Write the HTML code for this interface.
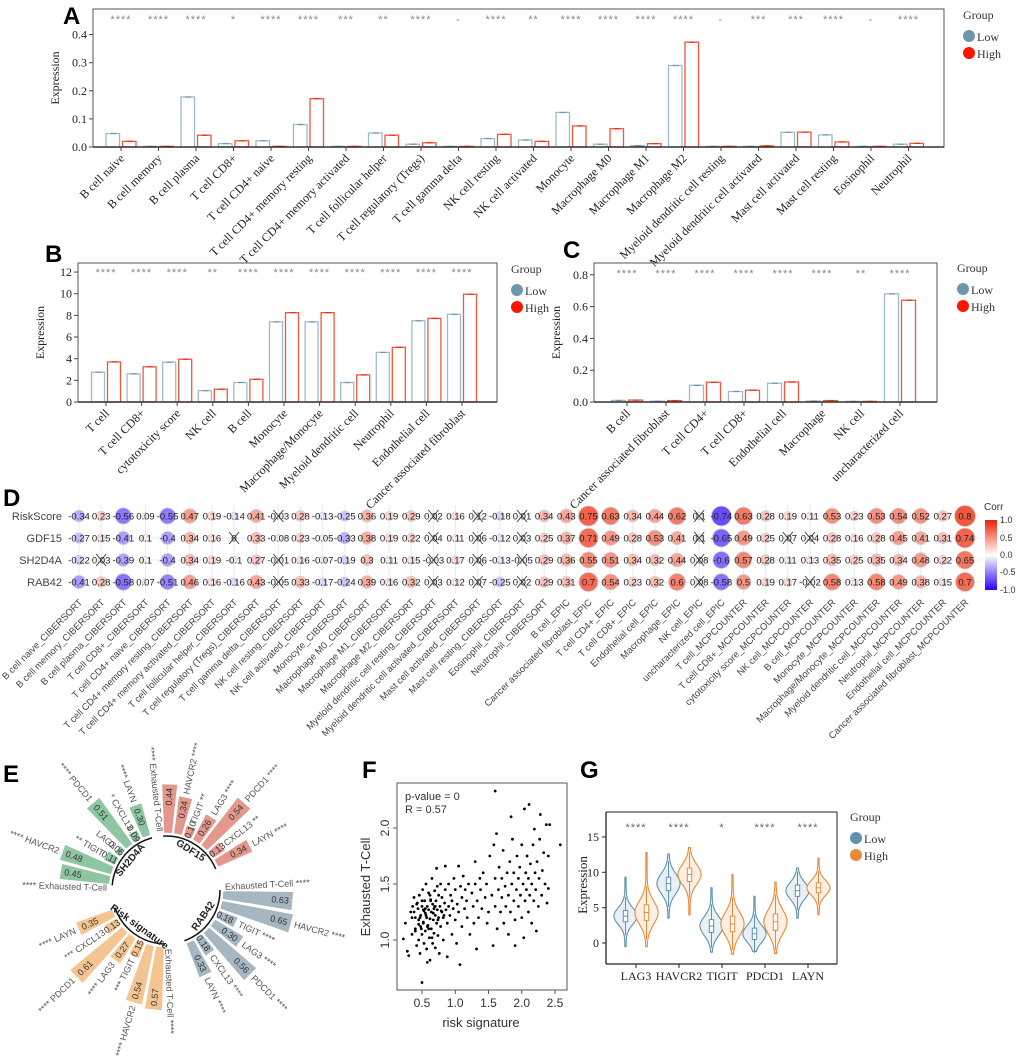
<!DOCTYPE html>
<html><head><meta charset="utf-8"><style>
body{margin:0;background:#fff}
svg{display:block}
.serif{font-family:"Liberation Serif",serif}
.sans{font-family:"Liberation Sans",sans-serif}
</style></head><body>
<svg id="fig" width="1020" height="1059" viewBox="0 0 1020 1059" xmlns="http://www.w3.org/2000/svg">
<defs><linearGradient id="cbar" x1="0" y1="0" x2="0" y2="1"><stop offset="0" stop-color="#ee2200"/><stop offset="0.5" stop-color="#ffffff"/><stop offset="1" stop-color="#2a00ff"/></linearGradient></defs>
<text x="63" y="24" font-size="24" font-weight="bold" class="sans">A</text>
<text x="45" y="262" font-size="24" font-weight="bold" class="sans">B</text>
<text x="563" y="258" font-size="24" font-weight="bold" class="sans">C</text>
<text x="3" y="506" font-size="24" font-weight="bold" class="sans">D</text>
<text x="3" y="782" font-size="24" font-weight="bold" class="sans">E</text>
<text x="362" y="778" font-size="24" font-weight="bold" class="sans">F</text>
<text x="580" y="778" font-size="24" font-weight="bold" class="sans">G</text>
</svg>
<script>
// ---------- Panel A data ----------
const aCats=['B cell naive','B cell memory','B cell plasma','T cell CD8+','T cell CD4+ naive','T cell CD4+ memory resting','T cell CD4+ memory activated','T cell follicular helper','T cell regulatory (Tregs)','T cell gamma delta','NK cell resting','NK cell activated','Monocyte','Macrophage M0','Macrophage M1','Macrophage M2','Myeloid dendritic cell resting','Myeloid dendritic cell activated','Mast cell activated','Mast cell resting','Eosinophil','Neutrophil'];
const aLow=[0.048,0.002,0.178,0.012,0.022,0.080,0.001,0.050,0.010,0.001,0.030,0.025,0.123,0.010,0.005,0.290,0.001,0.002,0.052,0.043,0.001,0.010];
const aHigh=[0.020,0.002,0.042,0.022,0.002,0.172,0.002,0.042,0.015,0.001,0.045,0.020,0.075,0.065,0.012,0.373,0.001,0.004,0.053,0.018,0.001,0.013];
const aSig=['****','****','****','*','****','****','***','**','****','-','****','**','****','****','****','****','-','***','***','****','-','****'];
const aTicks=[0,0.1,0.2,0.3,0.4];
const aTickLabels=['0.0','0.1','0.2','0.3','0.4'];
// ---------- Panel B data ----------
const bCats=['T cell','T cell CD8+','cytotoxicity score','NK cell','B cell','Monocyte','Macrophage/Monocyte','Myeloid dendritic cell','Neutrophil','Endothelial cell','Cancer associated fibroblast'];
const bLow=[2.75,2.6,3.68,1.05,1.8,7.4,7.4,1.8,4.58,7.5,8.1];
const bHigh=[3.7,3.25,3.95,1.18,2.1,8.25,8.25,2.5,5.05,7.72,9.95];
const bSig=['****','****','****','**','****','****','****','****','****','****','****'];
const bTicks=[0,2,4,6,8,10,12];
const bTickLabels=['0','2','4','6','8','10','12'];
// ---------- Panel C data ----------
const cCats=['B cell','Cancer associated fibroblast','T cell CD4+','T cell CD8+','Endothelial cell','Macrophage','NK cell','uncharacterized cell'];
const cLow=[0.010,0.005,0.105,0.066,0.118,0.006,0.001,0.680];
const cHigh=[0.012,0.009,0.124,0.074,0.126,0.009,0.001,0.640];
const cSig=['****','****','****','****','****','****','**','****'];
const cTicks=[0,0.2,0.4,0.6,0.8];
const cTickLabels=['0.0','0.2','0.4','0.6','0.8'];
// ---------- Panel D data ----------
const dRows=['RiskScore','GDF15','SH2D4A','RAB42'];
const dCols=['B cell naive_CIBERSORT','B cell memory_CIBERSORT','B cell plasma_CIBERSORT','T cell CD8+_CIBERSORT','T cell CD4+ naive_CIBERSORT','T cell CD4+ memory resting_CIBERSORT','T cell CD4+ memory activated_CIBERSORT','T cell follicular helper_CIBERSORT','T cell regulatory (Tregs)_CIBERSORT','T cell gamma delta_CIBERSORT','NK cell resting_CIBERSORT','NK cell activated_CIBERSORT','Monocyte_CIBERSORT','Macrophage M0_CIBERSORT','Macrophage M1_CIBERSORT','Macrophage M2_CIBERSORT','Myeloid dendritic cell resting_CIBERSORT','Myeloid dendritic cell activated_CIBERSORT','Mast cell activated_CIBERSORT','Mast cell resting_CIBERSORT','Eosinophil_CIBERSORT','Neutrophil_CIBERSORT','B cell_EPIC','Cancer associated fibroblast_EPIC','T cell CD4+_EPIC','T cell CD8+_EPIC','Endothelial cell_EPIC','Macrophage_EPIC','NK cell_EPIC','uncharacterized cell_EPIC','T cell_MCPCOUNTER','T cell CD8+_MCPCOUNTER','cytotoxicity score_MCPCOUNTER','NK cell_MCPCOUNTER','B cell_MCPCOUNTER','Monocyte_MCPCOUNTER','Macrophage/Monocyte_MCPCOUNTER','Myeloid dendritic cell_MCPCOUNTER','Neutrophil_MCPCOUNTER','Endothelial cell_MCPCOUNTER','Cancer associated fibroblast_MCPCOUNTER'];
const dRisk=[-0.34,0.23,-0.56,0.09,-0.55,0.47,0.19,-0.14,0.41,-0.03,0.28,-0.13,-0.25,0.36,0.19,0.29,0.02,0.16,0.12,-0.18,0.01,0.34,0.43,0.75,0.63,0.34,0.44,0.62,0.1,-0.74,0.63,0.28,0.19,0.11,0.53,0.23,0.53,0.54,0.52,0.27,0.8];
const dGdf=[-0.27,0.15,-0.41,0.1,-0.4,0.34,0.16,0,0.33,-0.08,0.23,-0.05,-0.33,0.38,0.19,0.22,0.04,0.11,0.06,-0.12,0.03,0.25,0.37,0.71,0.49,0.28,0.53,0.41,0.1,-0.65,0.49,0.25,0.07,0.04,0.28,0.16,0.28,0.45,0.41,0.31,0.74];
const dSh=[-0.22,0.03,-0.39,0.1,-0.4,0.34,0.19,-0.1,0.27,-0.01,0.16,-0.07,-0.19,0.3,0.11,0.15,-0.03,0.17,0.06,-0.13,-0.05,0.29,0.36,0.55,0.51,0.34,0.32,0.44,0.08,-0.6,0.57,0.28,0.11,0.13,0.35,0.25,0.35,0.34,0.48,0.22,0.65];
const dRab=[-0.41,0.28,-0.58,0.07,-0.51,0.46,0.16,-0.16,0.43,-0.05,0.33,-0.17,-0.24,0.39,0.16,0.32,0.03,0.12,0.07,-0.25,0.02,0.29,0.31,0.7,0.54,0.23,0.32,0.6,0.08,-0.58,0.5,0.19,0.17,-0.02,0.58,0.13,0.58,0.49,0.38,0.15,0.7];
const dCrossRisk=[9,16,18,20,28];
const dCrossGdf=[7,16,18,20,28,32,33];
const dCrossSh=[1,9,16,18,20,28];
const dCrossRab=[9,16,18,20,28,33];
// ---------- Panel E data ----------
const eGenes=['Exhausted T-Cell','HAVCR2','TIGIT','LAG3','PDCD1','CXCL13','LAYN'];
const eGroups=['GDF15','RAB42','Risk signature','SH2D4A'];
const eGdf=[0.44,0.34,0.10,0.26,0.54,0.13,0.34];
const eRab=[0.63,0.65,0.18,0.30,0.56,0.18,0.33];
const eRisk=[0.57,0.54,0.15,0.27,0.61,0.13,0.35];
const eSh=[0.45,0.48,0.11,0.06,0.51,0.09,0.30];
const eSigGdf=['****','****','**','****','****','**','****'];
const eSigRab=['****','****','****','****','****','****','****'];
const eSigRisk=['****','****','***','****','****','***','****'];
const eSigSh=['****','****','**','','****','*','****'];
// ---------- Panel F data ----------
const fX=[0.25,0.22,0.28,0.3,0.33,0.35,0.36,0.38,0.4,0.4,0.42,0.43,0.44,0.45,0.45,0.46,0.47,0.48,0.48,0.5,0.5,0.5,0.51,0.52,0.52,0.53,0.54,0.55,0.55,0.56,0.57,0.57,0.58,0.58,0.59,0.6,0.6,0.61,0.62,0.62,0.63,0.64,0.64,0.65,0.66,0.66,0.67,0.68,0.68,0.69,0.7,0.7,0.71,0.72,0.72,0.73,0.74,0.75,0.75,0.76,0.77,0.78,0.78,0.8,0.8,0.82,0.82,0.84,0.85,0.85,0.86,0.88,0.88,0.9,0.9,0.92,0.93,0.95,0.95,0.97,0.98,1.0,1.0,1.02,1.03,1.05,1.05,1.07,1.08,1.1,1.1,1.12,1.14,1.15,1.17,1.18,1.2,1.22,1.25,1.27,1.28,1.3,1.3,1.32,1.33,1.35,1.37,1.38,1.4,1.42,1.45,1.47,1.48,1.5,1.52,1.55,1.57,1.58,1.6,1.6,1.6,1.62,1.63,1.65,1.66,1.68,1.7,1.7,1.72,1.73,1.75,1.76,1.78,1.8,1.8,1.82,1.83,1.84,1.85,1.86,1.88,1.88,1.9,1.9,1.92,1.93,1.95,1.95,1.97,1.98,2.0,2.0,2.02,2.03,2.04,2.05,2.06,2.07,2.08,2.1,2.1,2.11,2.12,2.13,2.15,2.15,2.17,2.18,2.19,2.2,2.21,2.22,2.23,2.25,2.26,2.27,2.28,2.3,2.31,2.33,2.35,2.37,2.38,2.4,2.42,2.4,2.58,0.38,0.42,0.47,0.52,0.55,0.6,0.63,0.67,0.7,0.74,0.79,0.83,0.4,0.45,0.5,0.56,0.62,0.69,0.73,0.58,0.65,0.35,0.53,0.49];
const fY=[1.15,1.01,0.9,0.86,1.25,1.05,1.3,1.38,1.2,1.1,0.95,1.33,1.28,1.18,1.0,1.4,0.88,1.22,1.12,1.3,1.05,0.62,1.45,1.27,1.16,0.97,1.35,1.24,1.08,1.5,1.2,0.92,1.3,0.8,1.13,1.42,1.27,1.02,1.19,0.82,1.35,1.25,1.1,1.55,1.32,0.97,1.18,1.28,1.06,1.44,1.22,0.93,1.35,1.15,1.64,1.27,1.04,1.4,1.2,0.88,1.3,1.5,1.12,1.25,1.38,1.2,1.0,1.33,1.66,1.45,1.27,1.15,0.85,1.3,1.5,1.22,1.4,1.05,1.35,1.28,1.55,1.18,1.45,0.97,1.32,1.25,1.66,0.78,1.48,1.38,1.12,1.57,1.28,1.45,1.35,1.2,1.5,1.05,1.42,1.3,1.15,1.7,1.5,0.92,1.35,1.2,1.55,1.45,1.28,1.6,1.38,1.5,1.15,1.25,1.75,1.4,0.95,1.85,1.55,1.3,2.33,1.95,1.1,1.45,1.65,1.25,1.38,1.55,1.8,1.15,1.48,1.3,1.6,1.05,1.4,1.7,1.25,2.1,1.5,1.9,1.35,1.6,1.18,0.95,1.45,1.75,1.3,1.55,1.65,1.4,1.85,1.2,1.5,1.02,2.17,1.35,1.6,1.45,1.75,1.25,1.55,2.21,1.4,1.68,1.5,1.15,1.85,1.35,1.99,1.6,1.45,1.08,1.7,1.3,1.55,1.9,2.12,1.4,1.62,1.78,1.5,2.03,1.33,1.75,2.03,1.46,1.85,1.25,1.32,1.2,1.15,1.28,1.1,1.36,1.24,1.3,1.18,1.26,1.22,1.08,1.14,1.35,1.22,1.4,1.3,1.48,1.12,1.02,1.2,1.26,1.1];
const fXTicks=[0.5,1.0,1.5,2.0,2.5];
const fXTickLabels=['0.5','1.0','1.5','2.0','2.5'];
const fYTicks=[1.0,1.5,2.0];
const fYTickLabels=['1.0','1.5','2.0'];
// ---------- Panel G data ----------
const gCats=['LAG3','HAVCR2','TIGIT','PDCD1','LAYN'];
const gSig=['****','****','*','****','****'];
const gLowMed=[3.8,8.4,2.4,1.3,7.4];
const gLowQ1=[3.0,7.4,1.5,0.5,6.6];
const gLowQ3=[4.6,9.3,3.3,2.1,8.2];
const gLowMin=[-0.5,3.5,-1.3,-1.2,3.5];
const gLowMax=[9.3,12.6,7.8,6.6,10.6];
const gHighMed=[4.3,9.7,2.7,3.0,7.8];
const gHighQ1=[3.2,8.7,1.6,1.8,7.1];
const gHighQ3=[5.4,10.6,3.8,4.1,8.5];
const gHighMin=[-0.5,4.0,-1.6,-1.5,4.0];
const gHighMax=[12.8,13.5,9.7,8.6,12.0];
const gTicks=[0,5,10,15];
const gTickLabels=['0','5','10','15'];

const NS='http://www.w3.org/2000/svg';
const svg=document.getElementById('fig');
function mk(tag,attrs,parent){const e=document.createElementNS(NS,tag);for(const k in attrs)e.setAttribute(k,attrs[k]);(parent||svg).appendChild(e);return e;}
function txt(s,attrs,parent){const e=mk('text',attrs,parent);e.textContent=s;return e;}
const LOWC='#9dbccb',HIGHC='#f2563a',LOWDOT='#6f97ab',HIGHDOT='#ff1500';

function legend(x,y,title,c1,c2){
  const g=mk('g',{});
  
  
  txt(title,{x:x,y:y,'font-size':12,class:'serif',fill:'#333'},g);
  const a=mk('circle',{cx:x+6,cy:y+17,r:6,fill:c1},g);
  
  
  txt('Low',{x:x+14,y:y+22,'font-size':12,class:'serif',fill:'#333'},g);
  const b=mk('circle',{cx:x+6,cy:y+34,r:6,fill:c2},g);
  
  
  txt('High',{x:x+14,y:y+39,'font-size':12,class:'serif',fill:'#333'},g);
}

function barPanel(p){
  const g=mk('g',{});
  
  
  const ys=v=>p.bottom-v*p.ppu;
  const xs=i=>p.x0+i*p.dx;
  p.ticks.forEach((t,i)=>{
    mk('line',{x1:p.left-4,x2:p.left,y1:ys(t),y2:ys(t),stroke:'#444'},g);
    const tl=txt(p.tickLabels[i],{x:p.left-6,y:ys(t)+4,'font-size':12,'text-anchor':'end',class:'serif',fill:'#222'},g);
    
    
  });
  const yl=txt('Expression',{x:0,y:0,'font-size':12,class:'serif',fill:'#222','text-anchor':'middle',transform:`translate(${p.left-34},${(p.top+p.bottom)/2}) rotate(-90)`},g);
  
  
  p.cats.forEach((c,i)=>{
    const cx=xs(i);
    const hl=Math.max(p.low[i]*p.ppu,0.6), hh=Math.max(p.high[i]*p.ppu,0.6);
    const b1=mk('rect',{x:cx-p.bw-1.5,y:p.bottom-hl,width:p.bw,height:hl,fill:'#fff',stroke:LOWC,'stroke-width':1.3},g);
    
    
    const b2=mk('rect',{x:cx+1.5,y:p.bottom-hh,width:p.bw,height:hh,fill:'#fff',stroke:HIGHC,'stroke-width':1.3},g);
    
    
    mk('line',{x1:cx-p.bw/2-4,x2:cx-p.bw/2+2,y1:p.bottom-hl,y2:p.bottom-hl,stroke:'#6f97ab','stroke-width':1.2},g);
    mk('line',{x1:cx+p.bw/2-1,x2:cx+p.bw/2+5,y1:p.bottom-hh,y2:p.bottom-hh,stroke:'#e0301a','stroke-width':1.2},g);
    mk('line',{x1:cx,x2:cx,y1:p.bottom,y2:p.bottom+4,stroke:'#444'},g);
    const s=txt(p.sig[i],{x:cx,y:p.sigY,'font-size':11,'text-anchor':'middle',fill:'#888',class:'sans','letter-spacing':'1'},g);
    
    
    const l=txt(c,{x:0,y:0,'font-size':12,'text-anchor':'end',class:'serif',fill:'#222',transform:`translate(${cx+4},${p.bottom+12}) rotate(-45)`},g);
    
    
  });
  mk('rect',{x:p.left,y:p.top,width:p.right-p.left,height:p.bottom-p.top,fill:'none',stroke:'#555','stroke-width':1},g);
  mk('line',{x1:p.left,x2:p.right,y1:p.bottom,y2:p.bottom,stroke:'#333','stroke-width':1.5},g);
}
barPanel({name:'panel-a-bar-chart',cats:aCats,low:aLow,high:aHigh,sig:aSig,ticks:aTicks,tickLabels:aTickLabels,left:93,right:944,top:9,bottom:147,ppu:281,x0:121,dx:37.5,bw:13.5,sigY:23});
legend(963,19,'Group',LOWDOT,HIGHDOT);
barPanel({name:'panel-b-bar-chart',cats:bCats,low:bLow,high:bHigh,sig:bSig,ticks:bTicks,tickLabels:bTickLabels,left:78,right:497,top:263,bottom:402,ppu:10.83,x0:106,dx:35.6,bw:13,sigY:276});
legend(511,273,'Group',LOWDOT,HIGHDOT);
barPanel({name:'panel-c-bar-chart',cats:cCats,low:cLow,high:cHigh,sig:cSig,ticks:cTicks,tickLabels:cTickLabels,left:594,right:937,top:263,bottom:402,ppu:159,x0:627,dx:39,bw:14,sigY:277});
legend(957,272,'Group',LOWDOT,HIGHDOT);

// ---------- Panel D ----------
(function(){
  const g=mk('g',{});
  
  
  const rowsV=[dRisk,dGdf,dSh,dRab], crosses=[dCrossRisk,dCrossGdf,dCrossSh,dCrossRab];
  const xc=i=>79+i*22.15, yr=j=>516+j*22;
  dCols.forEach((c,i)=>mk('line',{x1:xc(i),x2:xc(i),y1:505,y2:593,stroke:'#ebebeb','stroke-width':1},g));
  dRows.forEach((r,j)=>{
    mk('line',{x1:70,x2:980,y1:yr(j),y2:yr(j),stroke:'#ebebeb'},g);
    const t=txt(r,{x:62,y:yr(j)+4,'font-size':11,'text-anchor':'end',class:'sans',fill:'#444'},g);
    
    
  });
  function col(v){const a=Math.min(Math.abs(v),1);const t=[238,34,0],b=[42,0,255];const c=v>=0?t:b;const m=(k)=>Math.round(255+(c[k]-255)*a*0.95);return `rgb(${m(0)},${m(1)},${m(2)})`;}
  rowsV.forEach((vals,j)=>{
    vals.forEach((v,i)=>{
      const ci=mk('circle',{cx:xc(i),cy:yr(j),r:2.5+10*Math.abs(v),fill:col(v),stroke:'#cfcfcf','stroke-width':0.8},g);
      
      
      const s=String(v);
      txt(s,{x:xc(i),y:yr(j)+3.3,'font-size':9.5,'text-anchor':'middle',class:'sans',fill:'#222'},g);
      if(crosses[j].includes(i)){
        mk('path',{d:`M${xc(i)-5},${yr(j)-6}L${xc(i)+5},${yr(j)+6}M${xc(i)+5},${yr(j)-6}L${xc(i)-5},${yr(j)+6}`,stroke:'#333','stroke-width':0.9,fill:'none'},g);
      }
    });
  });
  dCols.forEach((c,i)=>{
    const l=txt(c,{x:0,y:0,'font-size':9.5,'text-anchor':'end',class:'sans',fill:'#444',transform:`translate(${xc(i)+4},${603}) rotate(-45)`},g);
    
    
  });
  const cb=mk('rect',{x:985,y:520,width:12,height:70,fill:'url(#cbar)'},g);
  
  
  txt('Corr',{x:984,y:510,'font-size':10,class:'sans',fill:'#333'},g);
  [['1.0',520],['0.5',538],['0.0',555],['-0.5',572],['-1.0',590]].forEach(([s,y])=>txt(s,{x:1000,y:y+3,'font-size':9,class:'sans',fill:'#333'},g));
})();

// ---------- Panel E ----------
(function(){
  const g=mk('g',{});
  
  
  const CX=166,CY=890,R0=57,K=112;
  const vals=[eGdf,eRab,eRisk,eSh], sigs=[eSigGdf,eSigRab,eSigRisk,eSigSh];
  const starts=[88,-5,-96,170], colors=['#e3978d','#a7b7c2','#f4c590','#8fc6a2'];
  const P=(a,r)=>[CX+r*Math.cos(a*Math.PI/180),CY-r*Math.sin(a*Math.PI/180)];
  eGroups.forEach((gn,k)=>{
    vals[k].forEach((v,i)=>{
      const a=starts[k]-i*10, r1=R0+v*K, h=4.3;
      const p1=P(a+h,R0),p2=P(a+h,r1),p3=P(a-h,r1),p4=P(a-h,R0);
      const w=mk('path',{d:`M${p1}L${p2}L${p3}L${p4}Z`,fill:colors[k],stroke:'#fff','stroke-width':0.8},g);
      
      
      const vp=P(a,Math.max(r1-13,R0+8));
      const leftV=Math.cos(a*Math.PI/180)<0;
      const rotV=leftV?180-a:-a;
      txt(v.toFixed(2),{x:vp[0],y:vp[1],'font-size':9,'text-anchor':'middle','dominant-baseline':'central',class:'sans',fill:'#333',transform:`rotate(${rotV},${vp[0]},${vp[1]})`},g);
      const la=i===0?a+8:a;
      const left=Math.cos(la*Math.PI/180)<0;
      const rot=left?180-la:-la;
      const lp=i===0?P(la,R0+2):P(la,r1+3);
      const s=sigs[k][i];
      const lab=left?(s?s+' ':'')+eGenes[i]:eGenes[i]+(s?' '+s:'');
      const t=txt(lab,{x:lp[0],y:lp[1],'font-size':9,'text-anchor':left?'end':'start','dominant-baseline':'central',class:'sans',fill:'#555',transform:`rotate(${rot},${lp[0]},${lp[1]})`},g);
      
      
    });
    const a0=starts[k]+5,a1=starts[k]-65,rr=R0-3;
    const q0=P(a0,rr),q1=P(a1,rr);
    mk('path',{d:`M${q0}A${rr},${rr} 0 0 1 ${q1}`,fill:'none',stroke:'#111','stroke-width':1.5},g);
    const mid=starts[k]-30; const tp=P(mid,R0-11);
    let rot=90-mid; if(Math.sin(mid*Math.PI/180)<0) rot+=180;
    const gl=txt(gn,{x:tp[0],y:tp[1],'font-size':10,'font-weight':'bold','text-anchor':'middle','dominant-baseline':'central',class:'sans',fill:'#222',transform:`rotate(${rot},${tp[0]},${tp[1]})`},g);
    
    
  });
})();

// ---------- Panel F ----------
(function(){
  const g=mk('g',{});
  
  
  const L=397,R=567,T=783,B=990;
  const xs=v=>422+(v-0.5)*66.5, ys=v=>940-(v-1.0)*112;
  fX.forEach((x,i)=>{
    const c=mk('circle',{cx:xs(x),cy:ys(fY[i]),r:1.4,fill:'#000'},g);
    
    
  });
  mk('rect',{x:L,y:T,width:R-L,height:B-T,fill:'none',stroke:'#555'},g);
  fXTicks.forEach((t,i)=>{mk('line',{x1:xs(t),x2:xs(t),y1:B,y2:B+4,stroke:'#555'},g);
    const l=txt(fXTickLabels[i],{x:xs(t),y:B+17,'font-size':12,'text-anchor':'middle',class:'sans',fill:'#333'},g);
    
    });
  fYTicks.forEach((t,i)=>{mk('line',{x1:L-4,x2:L,y1:ys(t),y2:ys(t),stroke:'#555'},g);
    const l=txt(fYTickLabels[i],{x:0,y:0,'font-size':12,'text-anchor':'middle',class:'sans',fill:'#333',transform:`translate(${L-8},${ys(t)}) rotate(-90)`},g);
    
    });
  const xt=txt('risk signature',{x:481,y:1027,'font-size':13,'text-anchor':'middle',class:'sans',fill:'#333'},g);
  
  
  const yt=txt('Exhausted T-Cell',{x:0,y:0,'font-size':13,'text-anchor':'middle',class:'sans',fill:'#333',transform:'translate(370,887) rotate(-90)'},g);
  
  
  txt('p-value = 0',{x:405,y:800,'font-size':11,class:'sans',fill:'#333'},g);
  txt('R = 0.57',{x:405,y:813,'font-size':11,class:'sans',fill:'#333'},g);
})();

// ---------- Panel G ----------
(function(){
  const g=mk('g',{});
  
  
  const L=606,R=837,T=812,B=964;
  const ys=v=>943-v*7.07, xc=i=>636+i*43;
  mk('line',{x1:L,x2:L,y1:T,y2:B,stroke:'#222','stroke-width':1.3},g);
  mk('line',{x1:L,x2:R,y1:B,y2:B,stroke:'#222','stroke-width':1.3},g);
  mk('line',{x1:L,x2:R,y1:T,y2:T,stroke:'#222','stroke-width':1},g);
  mk('line',{x1:R,x2:R,y1:T,y2:B,stroke:'#222','stroke-width':1},g);
  gTicks.forEach((t,i)=>{mk('line',{x1:L-4,x2:L,y1:ys(t),y2:ys(t),stroke:'#222'},g);
    const l=txt(gTickLabels[i],{x:L-7,y:ys(t)+4,'font-size':12,'text-anchor':'end',class:'serif',fill:'#222'},g);
    
    });
  const yt=txt('Expression',{x:0,y:0,'font-size':13,'text-anchor':'middle',class:'serif',fill:'#222',transform:'translate(587,885) rotate(-90)'},g);
  
  
  function violin(cx,med,q1,q3,mn,mx,stroke,fill){
    const sd=Math.max((q3-q1)/1.35,0.4);const W=11;const pts=[];const N=40;
    for(let k=0;k<=N;k++){const v=mn+(mx-mn)*k/N;const w=0.6+W*Math.exp(-0.5*Math.pow((v-med)/sd,2));pts.push([v,w]);}
    let d='M'+pts.map(p=>`${cx+p[1]},${ys(p[0])}`).join('L');
    d+='L'+pts.slice().reverse().map(p=>`${cx-p[1]},${ys(p[0])}`).join('L')+'Z';
    const v=mk('path',{d:d,fill:fill,stroke:stroke,'stroke-width':1.1},g);
    
    
    mk('line',{x1:cx,x2:cx,y1:ys(q3+1.2*(q3-q1)),y2:ys(q1-1.2*(q3-q1)),stroke:stroke,'stroke-width':1},g);
    mk('rect',{x:cx-2.2,y:ys(q3),width:4.4,height:ys(q1)-ys(q3),fill:'#fff',stroke:stroke,'stroke-width':1},g);
    mk('line',{x1:cx-2.2,x2:cx+2.2,y1:ys(med),y2:ys(med),stroke:stroke,'stroke-width':1},g);
  }
  gCats.forEach((c,i)=>{
    violin(xc(i)-10.5,gLowMed[i],gLowQ1[i],gLowQ3[i],gLowMin[i],gLowMax[i],'#5f93ad','#e8f0f5');
    violin(xc(i)+10.5,gHighMed[i],gHighQ1[i],gHighQ3[i],gHighMin[i],gHighMax[i],'#e8893a','#fdf0e3');
    mk('line',{x1:xc(i),x2:xc(i),y1:B,y2:B+4,stroke:'#222'},g);
    const l=txt(c,{x:xc(i),y:B+16,'font-size':12,'text-anchor':'middle',class:'serif',fill:'#222'},g);
    
    
    const s=txt(gSig[i],{x:xc(i),y:831,'font-size':11,'text-anchor':'middle',class:'sans',fill:'#666','letter-spacing':'1'},g);
    
    
  });
  legend(850,821,'Group','#5f93ad','#e8893a');
})();
</script>
</body></html>
